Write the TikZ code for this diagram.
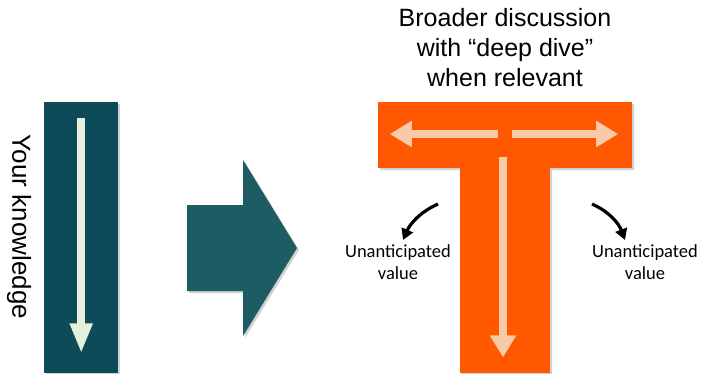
\documentclass[tikz,border=0pt]{standalone}
\usepackage{fontspec}
\setmainfont{Liberation Sans}
\newfontfamily\calibri{Carlito}
\usetikzlibrary{positioning, arrows.meta, calc}

\definecolor{knowteal}{HTML}{0E4B58}
\definecolor{arrowteal}{HTML}{1D5C63}
\definecolor{paleline}{HTML}{E6F0DA}
\definecolor{torange}{HTML}{FF5800}
\definecolor{peach}{HTML}{F8CAA8}

\begin{document}
\begin{tikzpicture}[
    x=1pt, y=-1pt,
    % Blocks
    knowbar/.style={fill=knowteal, rectangle, inner sep=0pt, minimum width=74pt, minimum height=271pt},
    tblock/.style={fill=torange, rectangle, inner sep=0pt},
    shadowfill/.style={fill=black, opacity=0.18},
    % Text styles
    titletext/.style={align=center, font=\fontsize{25}{30}\selectfont},
    sidetext/.style={font=\fontsize{26}{30}\selectfont},
    uvalue/.style={align=center, font=\calibri\fontsize{18.5}{22}\selectfont},
    % Arrow styles
    palearrow/.style={draw=paleline, line width=8pt, -{Triangle[length=30pt, width=21pt]}},
    tarrow/.style={draw=peach, line width=8pt, -{Triangle[length=22pt, width=25pt]}},
    curvearrow/.style={draw=black, line width=3.2pt, -{Triangle[length=11pt, width=12pt]}}
]
    \useasboundingbox (0,0) rectangle (703,373);

    % ==================== Left column: your knowledge ====================
    \fill [shadowfill] (46,104) rectangle (120,375);
    \node (knowledge) [knowbar, anchor=north west] at (44,102) {};
    \draw [palearrow] ([yshift=-16pt]knowledge.north) -- ([yshift=20pt]knowledge.south);
    \node (yourknow) [sidetext, rotate=-90] at (19,227) {Your knowledge};

    % ==================== Big arrow in the middle ====================
    \fill [shadowfill] (189,207) -- (245,207) -- (245,162) -- (299,250) -- (245,338) -- (245,293) -- (189,293) -- cycle;
    \fill [arrowteal] (187,205) -- (243,205) -- (243,160) -- (297,248) -- (243,336) -- (243,291) -- (187,291) -- cycle;

    % ==================== T shape ====================
    \fill [shadowfill] (380,104) -- (634,104) -- (634,170) -- (552,170) -- (552,375) -- (462,375) -- (462,170) -- (380,170) -- cycle;
    \node (tbar) [tblock, minimum width=254pt, minimum height=66pt] at (505,135) {};
    \node (tstem) [tblock, minimum width=90pt, minimum height=207pt, anchor=north] at (505,166) {};

    % Arrows inside the T
    \draw [tarrow] ([xshift=-7pt, yshift=1pt]tbar.center) -- ([xshift=12pt, yshift=1pt]tbar.west);
    \draw [tarrow] ([xshift=7pt, yshift=1pt]tbar.center) -- ([xshift=-14pt, yshift=1pt]tbar.east);
    \draw [tarrow] ([xshift=-2pt, yshift=9pt]tstem.north) -- ([xshift=-2pt, yshift=16pt]tstem.south);

    % Title above the T
    \node (title) [titletext] at (505,48) {Broader discussion\\with “deep dive”\\when relevant};

    % ==================== Unanticipated value ====================
    \node (ua_left) [uvalue] at (398,262) {Unanticipated\\value};
    \node (ua_right) [uvalue] at (645,262) {Unanticipated\\value};

    \coordinate (ul_start) at (438,204);
    \coordinate (ul_end) at ([xshift=5pt, yshift=1pt]ua_left.north);
    \coordinate (ur_start) at (592,204);
    \coordinate (ur_end) at ([xshift=-20pt, yshift=1pt]ua_right.north);

    \draw [curvearrow] (ul_start) .. controls (420,212) and (410,224) .. (ul_end);
    \draw [curvearrow] (ur_start) .. controls (610,212) and (619,224) .. (ur_end);

\end{tikzpicture}
\end{document}
